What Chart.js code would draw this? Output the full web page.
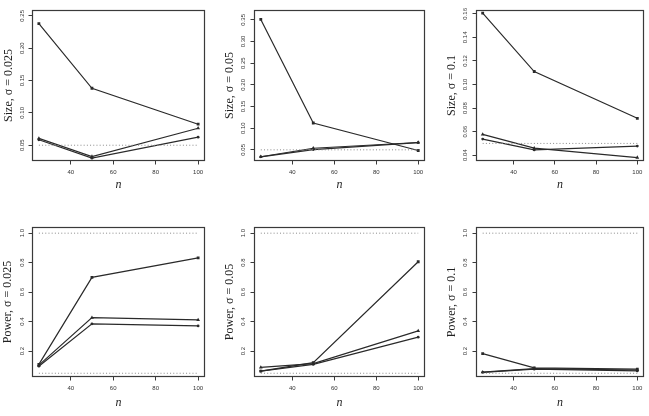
<!DOCTYPE html>
<html><head><meta charset="utf-8">
<script src="https://cdn.jsdelivr.net/npm/chart.js@4.4.0/dist/chart.umd.min.js"></script>
<style>
html,body{margin:0;padding:0;background:#fff;}
#wrap{position:relative;width:649px;height:416px;overflow:hidden;background:#fff;}
canvas{position:absolute;}
</style></head><body><div id="wrap"></div>
<script>
// ---- data ----
const nValues = [25, 50, 100];
const xTicks = [40, 60, 80, 100];
const xTickLabels = ['40', '60', '80', '100'];
const alphaLevel = 0.05;
const fullPower = 1.0;

const sizeTicks025 = [0.05, 0.10, 0.15, 0.20, 0.25];
const sizeTickLabels025 = ['0.05', '0.10', '0.15', '0.20', '0.25'];
const sizeTicks05 = [0.05, 0.10, 0.15, 0.20, 0.25, 0.30, 0.35];
const sizeTickLabels05 = ['0.05', '0.10', '0.15', '0.20', '0.25', '0.30', '0.35'];
const sizeTicks1 = [0.04, 0.06, 0.08, 0.10, 0.12, 0.14, 0.16];
const sizeTickLabels1 = ['0.04', '0.06', '0.08', '0.10', '0.12', '0.14', '0.16'];
const powerTicks = [0.2, 0.4, 0.6, 0.8, 1.0];
const powerTickLabels = ['0.2', '0.4', '0.6', '0.8', '1.0'];

const size025A = [0.238, 0.138, 0.0825];
const size025B = [0.0605, 0.0325, 0.0763];
const size025C = [0.0585, 0.0300, 0.0624];

const size05A = [0.351, 0.112, 0.0484];
const size05B = [0.0340, 0.0537, 0.0670];
const size05C = [0.0338, 0.0507, 0.0665];

const size1A = [0.1606, 0.111, 0.0713];
const size1B = [0.0577, 0.0460, 0.0380];
const size1C = [0.0537, 0.0445, 0.0477];

const power025A = [0.110, 0.700, 0.833];
const power025B = [0.105, 0.427, 0.412];
const power025C = [0.098, 0.385, 0.371];

const power05A = [0.065, 0.122, 0.806];
const power05B = [0.090, 0.115, 0.337];
const power05C = [0.065, 0.110, 0.295];

const power1A = [0.183, 0.086, 0.078];
const power1B = [0.058, 0.081, 0.072];
const power1C = [0.056, 0.078, 0.066];

// ---- layout / style ----
const TICK_FONT = {family: '"Liberation Sans", Arial, sans-serif', size: 6};
const TITLE_FONT = {family: '"Liberation Serif", "DejaVu Serif", serif', size: 12};
const N_FONT = {family: '"Liberation Serif", "DejaVu Serif", serif', size: 12, style: 'italic'};
const INK = '#2a2a2a';
const BOX = '#3a3a3a';
const TL = 4;

const panels = [
  {title: 'Size, \u03C3 = 0.025', series: [size025A, size025B, size025C], refs: [alphaLevel],
   ticks: sizeTicks025, labels: sizeTickLabels025, ymin: 0.0264, ymax: 0.2582,
   cell: [0, 0, 216, 208], box: [32.5, 10.5, 204.5, 160.5], yTitleX: 8.5, yTickX: 22, xTitleY: 184.5},
  {title: 'Size, \u03C3 = 0.05', series: [size05A, size05B, size05C], refs: [alphaLevel],
   ticks: sizeTicks05, labels: sizeTickLabels05, ymin: 0.0254, ymax: 0.3716,
   cell: [216, 0, 433, 208], box: [254.5, 10.5, 424.5, 160.5], yTitleX: 230, yTickX: 243.3, xTitleY: 185},
  {title: 'Size, \u03C3 = 0.1', series: [size1A, size1B, size1C], refs: [alphaLevel],
   ticks: sizeTicks1, labels: sizeTickLabels1, ymin: 0.0355, ymax: 0.1628,
   cell: [433, 0, 649, 208], box: [476.5, 10.5, 643.5, 160.5], yTitleX: 451.7, yTickX: 465.3, xTitleY: 185},
  {title: 'Power, \u03C3 = 0.025', series: [power025A, power025B, power025C], refs: [alphaLevel, fullPower],
   ticks: powerTicks, labels: powerTickLabels, ymin: 0.028, ymax: 1.0385,
   cell: [0, 208, 216, 416], box: [32.5, 227.5, 204.5, 376.5], yTitleX: 8.3, yTickX: 22, xTitleY: 403.3},
  {title: 'Power, \u03C3 = 0.05', series: [power05A, power05B, power05C], refs: [alphaLevel, fullPower],
   ticks: powerTicks, labels: powerTickLabels, ymin: 0.028, ymax: 1.0385,
   cell: [216, 208, 433, 416], box: [254.5, 227.5, 424.5, 376.5], yTitleX: 230, yTickX: 243.5, xTitleY: 402.5},
  {title: 'Power, \u03C3 = 0.1', series: [power1A, power1B, power1C], refs: [alphaLevel, fullPower],
   ticks: powerTicks, labels: powerTickLabels, ymin: 0.028, ymax: 1.0385,
   cell: [433, 208, 649, 416], box: [476.5, 227.5, 643.5, 376.5], yTitleX: 451.7, yTickX: 465.3, xTitleY: 403}
];

const markerStyles = [
  {pointStyle: 'rect', pointRadius: 2.0},
  {pointStyle: 'triangle', pointRadius: 2.2},
  {pointStyle: 'circle', pointRadius: 1.4}
];

const measureCtx = document.createElement('canvas').getContext('2d');
measureCtx.font = TICK_FONT.size + 'px ' + TICK_FONT.family;

const boxPlugin = {
  id: 'box',
  afterDraw(chart) {
    const {ctx, chartArea: a} = chart;
    ctx.save();
    ctx.strokeStyle = BOX;
    ctx.lineWidth = 1.2;
    ctx.strokeRect(a.left, a.top, a.right - a.left, a.bottom - a.top);
    ctx.restore();
  }
};

const wrap = document.getElementById('wrap');
panels.forEach((p) => {
  const [cl, ct, cr, cb] = p.cell;
  const [bl, bt, br, bb] = p.box;
  const cv = document.createElement('canvas');
  cv.width = cr - cl; cv.height = cb - ct;
  cv.style.left = cl + 'px'; cv.style.top = ct + 'px';
  cv.style.width = (cr - cl) + 'px'; cv.style.height = (cb - ct) + 'px';
  wrap.appendChild(cv);

  const widest = Math.max(...p.labels.map(s => measureCtx.measureText(s).width));
  const yPad = (bl - p.yTickX) - TL - widest / 2;
  const titleLH = TITLE_FONT.size * 1.2;

  const datasets = [];
  p.refs.forEach((r) => {
    datasets.push({
      data: [{x: nValues[0], y: r}, {x: nValues[nValues.length - 1], y: r}],
      borderColor: '#8a8a8a', borderWidth: 1, borderDash: [1, 2.2],
      pointRadius: 0, fill: false, tension: 0
    });
  });
  p.series.forEach((s, i) => {
    datasets.push({
      data: nValues.map((n, k) => ({x: n, y: s[k]})),
      borderColor: INK, backgroundColor: INK, borderWidth: 1.2,
      pointStyle: markerStyles[i].pointStyle, pointRadius: markerStyles[i].pointRadius,
      pointBorderWidth: 0, pointBackgroundColor: INK, fill: false, tension: 0
    });
  });

  new Chart(cv, {
    type: 'line',
    data: {datasets},
    plugins: [boxPlugin],
    options: {
      responsive: false, animation: false, devicePixelRatio: 1,
      layout: {padding: {left: 0, top: bt - ct, right: cr - br, bottom: 0}},
      plugins: {legend: {display: false}, tooltip: {enabled: false}, title: {display: false}},
      scales: {
        x: {
          type: 'linear', min: 22, max: 103,
          afterBuildTicks: (s) => { s.ticks = xTicks.map(v => ({value: v})); },
          afterFit: (s) => { s.height = cb - bb; },
          grid: {drawOnChartArea: false, drawTicks: true, tickLength: TL, color: BOX, lineWidth: 1},
          border: {display: false},
          ticks: {
            font: TICK_FONT, color: '#333', padding: 4.2, autoSkip: false, maxRotation: 0, minRotation: 0,
            callback: (v) => { const i = xTicks.indexOf(v); return i >= 0 ? xTickLabels[i] : ''; }
          },
          title: {display: true, text: 'n', font: N_FONT, color: '#222',
                  padding: {top: 0, bottom: (cb - p.xTitleY) - N_FONT.size * 0.6}}
        },
        y: {
          type: 'linear', min: p.ymin, max: p.ymax,
          afterBuildTicks: (s) => { s.ticks = p.ticks.map(v => ({value: v})); },
          afterFit: (s) => { s.width = bl - cl; },
          grid: {drawOnChartArea: false, drawTicks: true, tickLength: TL, color: BOX, lineWidth: 1},
          border: {display: false},
          ticks: {
            font: TICK_FONT, color: '#333', padding: yPad, autoSkip: false,
            minRotation: 90, maxRotation: 90, crossAlign: 'center',
            callback: (v) => {
              let best = -1, bd = 1e9;
              p.ticks.forEach((t, i) => { const d = Math.abs(t - v); if (d < bd) { bd = d; best = i; } });
              return bd < 1e-9 ? p.labels[best] : '';
            }
          },
          title: {display: true, text: p.title, font: TITLE_FONT, color: '#222',
                  padding: {top: (p.yTitleX - cl) - titleLH / 2, bottom: 0}}
        }
      }
    }
  });
});
</script>
</body></html>
